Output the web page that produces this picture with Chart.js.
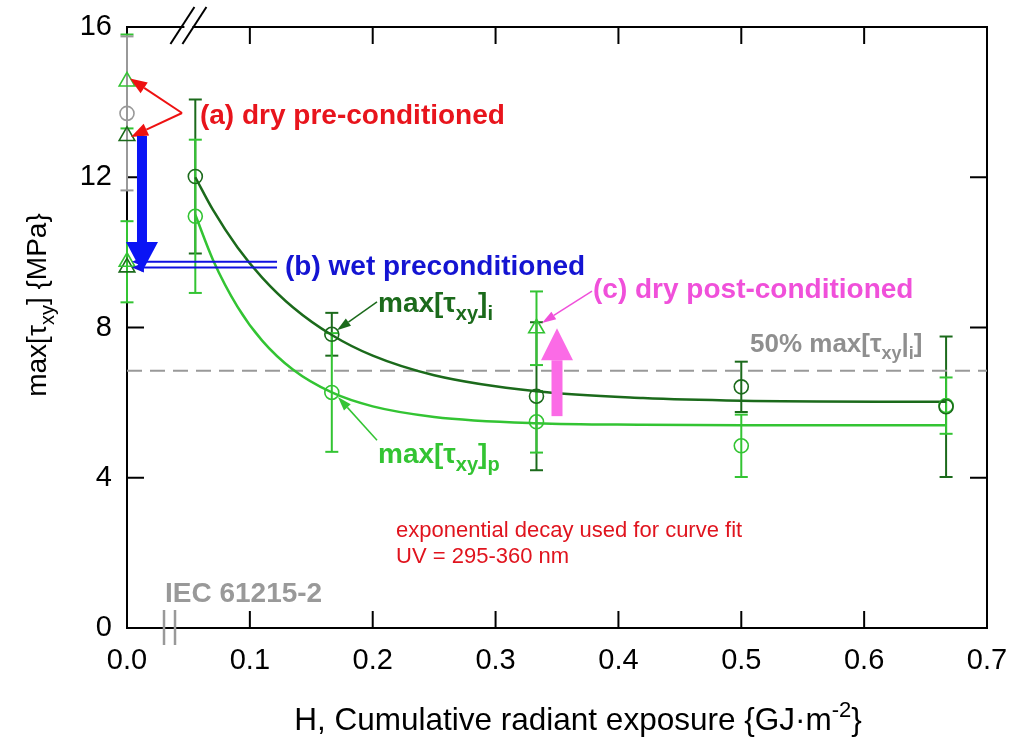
<!DOCTYPE html>
<html>
<head>
<meta charset="utf-8">
<title>max shear stress vs cumulative radiant exposure</title>
<script src="https://cdn.jsdelivr.net/npm/chart.js@4.4.1/dist/chart.umd.min.js"></script>
<style>
  html, body { margin: 0; padding: 0; background: #fff; }
  #wrap { width: 1011px; height: 743px; }
</style>
</head>
<body>
<div id="wrap"><canvas id="chartTau" width="1011" height="743"></canvas></div>
<script>
// ---- data ----------------------------------------------------------
// UV-aged specimens, H in GJ/m2, stresses in MPa
var exposureH = [0.0556, 0.1667, 0.3333, 0.5, 0.6667];
var tauI      = [12.02, 7.82, 6.17, 6.42, 5.89];
var tauIErr   = [2.05, 0.57, 1.97, 0.67, 1.87];
var tauP      = [10.96, 6.27, 5.49, 4.85, 5.92];
var tauPErr   = [2.04, 1.58, 0.82, 0.83, 0.75];

// IEC 61215-2 reference (unaged)
var iecH   = [0];
var iecTau = [13.7];
var iecErr = [2.05];

// conditioned specimens: dry pre, wet pre, dry post
var condHP    = [0, 0, 0.3333];
var condTauP  = [14.55, 9.75, 7.98];
var condErrP  = [1.25, 1.08, 0.98];
var condHI    = [0, 0];
var condTauI  = [13.1, 9.6];

// exponential decay fit curves
var fitH    = [0.0556, 0.07, 0.09, 0.11, 0.135, 0.1667, 0.2, 0.25, 0.3333, 0.42, 0.5, 0.6667];
var fitTauI = [12.0, 11.13, 10.13, 9.33, 8.54, 7.80, 7.25, 6.73, 6.30, 6.12, 6.05, 6.02];
var fitTauP = [11.0, 9.80, 8.55, 7.65, 6.88, 6.27, 5.90, 5.62, 5.45, 5.41, 5.40, 5.40];

var xTicks = [0, 0.1, 0.2, 0.3, 0.4, 0.5, 0.6, 0.7];
var yTicks = [0, 4, 8, 12, 16];

var halfMaxI = 0.5 * iecTau[0];

// ---- styles --------------------------------------------------------
var FONT = '"Liberation Sans", Arial, Helvetica, sans-serif';
var DARK_GREEN = '#1b6a1b';
var LIGHT_GREEN = '#33c433';
var GRAY = '#999999';

function pts(xs, ys) {
  return xs.map(function (x, i) { return { x: x, y: ys[i] }; });
}

// error bars, drawn under the markers
var errorBars = [];
exposureH.forEach(function (h, i) { errorBars.push({ x: h, y: tauI[i], e: tauIErr[i], c: DARK_GREEN }); });
exposureH.forEach(function (h, i) { errorBars.push({ x: h, y: tauP[i], e: tauPErr[i], c: LIGHT_GREEN }); });
condHP.forEach(function (h, i) { errorBars.push({ x: h, y: condTauP[i], e: condErrP[i], c: LIGHT_GREEN }); });
iecH.forEach(function (h, i) { errorBars.push({ x: h, y: iecTau[i], e: iecErr[i], c: GRAY }); });

// text with sub/superscript parts: [text, 'sub' | 'sup' | null]
function richText(ctx, x, y, parts, size, weight, color, align) {
  function fontFor(k) {
    var s = k ? Math.round(size * 0.7) : size;
    return weight + ' ' + s + 'px ' + FONT;
  }
  var total = 0;
  parts.forEach(function (p) { ctx.font = fontFor(p[1]); total += ctx.measureText(p[0]).width; });
  var cx = align === 'center' ? x - total / 2 : x;
  ctx.fillStyle = color;
  ctx.textAlign = 'left';
  ctx.textBaseline = 'alphabetic';
  parts.forEach(function (p) {
    ctx.font = fontFor(p[1]);
    var dy = p[1] === 'sub' ? size * 0.28 : (p[1] === 'sup' ? -size * 0.42 : 0);
    ctx.fillText(p[0], cx, y + dy);
    cx += ctx.measureText(p[0]).width;
  });
}

function arrow(ctx, x1, y1, x2, y2, color, lw, headLen, headW) {
  var ang = Math.atan2(y2 - y1, x2 - x1);
  var bx = x2 - Math.cos(ang) * headLen, by = y2 - Math.sin(ang) * headLen;
  ctx.strokeStyle = color;
  ctx.fillStyle = color;
  ctx.lineWidth = lw;
  ctx.lineCap = 'butt';
  ctx.beginPath();
  ctx.moveTo(x1, y1);
  ctx.lineTo(bx, by);
  ctx.stroke();
  ctx.beginPath();
  ctx.moveTo(x2, y2);
  ctx.lineTo(bx + Math.sin(ang) * headW / 2, by - Math.cos(ang) * headW / 2);
  ctx.lineTo(bx - Math.sin(ang) * headW / 2, by + Math.cos(ang) * headW / 2);
  ctx.closePath();
  ctx.fill();
}

function line(ctx, x1, y1, x2, y2) {
  ctx.beginPath();
  ctx.moveTo(x1, y1);
  ctx.lineTo(x2, y2);
  ctx.stroke();
}

var framePlugin = {
  id: 'frameAndNotes',
  beforeDatasetsDraw: function (chart) {
    var ctx = chart.ctx, a = chart.chartArea;
    var sx = chart.scales.x, sy = chart.scales.y;
    ctx.save();

    // box and inward ticks
    ctx.strokeStyle = '#000';
    ctx.lineWidth = 2;
    ctx.strokeRect(a.left, a.top, a.right - a.left, a.bottom - a.top);
    sx.ticks.forEach(function (t) {
      var p = sx.getPixelForValue(t.value);
      if (t.value <= 0 || t.value >= 0.7) return;
      line(ctx, p, a.bottom, p, a.bottom - 17);
      line(ctx, p, a.top, p, a.top + 17);
    });
    sy.ticks.forEach(function (t) {
      var p = sy.getPixelForValue(t.value);
      if (t.value <= 0 || t.value >= 16) return;
      line(ctx, a.left, p, a.left + 17, p);
      line(ctx, a.right, p, a.right - 17, p);
    });

    // axis break on top edge
    var bx = sx.getPixelForValue(0.05);
    ctx.fillStyle = '#fff';
    ctx.fillRect(bx - 4, a.top - 2, 8, 4);
    ctx.strokeStyle = '#000';
    ctx.lineWidth = 2;
    line(ctx, bx - 18, a.top + 17, bx + 6, a.top - 20);
    line(ctx, bx - 6, a.top + 17, bx + 18, a.top - 20);

    // axis break on bottom edge
    var bb = sx.getPixelForValue(0.0346);
    ctx.strokeStyle = GRAY;
    ctx.lineWidth = 2.5;
    line(ctx, bb - 5.5, a.bottom - 18, bb - 5.5, a.bottom + 17);
    line(ctx, bb + 5.5, a.bottom - 18, bb + 5.5, a.bottom + 17);

    richText(ctx, sx.getPixelForValue(0.0309), sy.getPixelForValue(0.69),
      [['IEC 61215-2', null]], 28, 'bold', GRAY, 'left');

    // error bars
    errorBars.forEach(function (b) {
      var x = sx.getPixelForValue(b.x);
      var y1 = sy.getPixelForValue(b.y + b.e), y2 = sy.getPixelForValue(b.y - b.e);
      ctx.strokeStyle = b.c;
      ctx.lineWidth = 2;
      line(ctx, x, y1, x, y2);
      line(ctx, x - 6.5, y1, x + 6.5, y1);
      line(ctx, x - 6.5, y2, x + 6.5, y2);
    });
    ctx.restore();
  },
  afterDatasetsDraw: function (chart) {
    var ctx = chart.ctx, a = chart.chartArea;
    var sx = chart.scales.x, sy = chart.scales.y;
    function X(v) { return sx.getPixelForValue(v); }
    function Y(v) { return sy.getPixelForValue(v); }
    ctx.save();

    // (a) dry pre-conditioned
    richText(ctx, X(0.0594), Y(13.42), [['(a) dry pre-conditioned', null]], 28, 'bold', '#e8141c', 'left');
    arrow(ctx, X(0.0448), Y(13.71), X(0) + 3, Y(condTauP[0]) - 3, '#ee1111', 2, 17, 13);
    arrow(ctx, X(0.0448), Y(13.71), X(0) + 4, Y(condTauI[0]) + 1, '#ee1111', 2, 17, 13);

    // (b) wet preconditioned
    arrow(ctx, X(0.1221), Y(condTauP[1]), X(0.004), Y(condTauP[1]), '#1010e0', 2, 12, 10);
    arrow(ctx, X(0.1221), Y(condTauI[1]), X(0.004), Y(condTauI[1]), '#1010e0', 2, 12, 10);
    arrow(ctx, X(0.0122), Y(condTauI[0]), X(0.0122), Y(9.48), '#0a14f5', 10, 30, 32);
    richText(ctx, X(0.1286), Y(9.40), [['(b) wet preconditioned', null]], 28, 'bold', '#1414d2', 'left');

    // (c) dry post-conditioned
    richText(ctx, X(0.3793), Y(8.79), [['(c) dry post-conditioned', null]], 28, 'bold', '#f050da', 'left');
    arrow(ctx, X(0.3785), Y(8.97), X(0.3378), Y(8.12), '#f050da', 1.5, 14, 9);
    arrow(ctx, X(0.35), Y(5.64), X(0.35), Y(condTauP[2]), '#fb6be6', 11, 32, 32);

    // curve labels
    richText(ctx, X(0.2043), Y(8.41), [['max[τ', null], ['xy', 'sub'], [']', null], ['i', 'sub']], 28, 'bold', DARK_GREEN, 'left');
    arrow(ctx, X(0.2035), Y(8.68), X(0.1709), Y(7.93), DARK_GREEN, 1.5, 14, 9);
    richText(ctx, X(0.2043), Y(4.38), [['max[τ', null], ['xy', 'sub'], [']', null], ['p', 'sub']], 28, 'bold', LIGHT_GREEN, 'left');
    arrow(ctx, X(0.2035), Y(5.0), X(0.1717), Y(6.15), LIGHT_GREEN, 1.5, 14, 9);

    // 50 % line label
    richText(ctx, X(0.5071), Y(7.35), [['50% max[τ', null], ['xy', 'sub'], ['|', null], ['i', 'sub'], [']', null]], 26, 'bold', '#8f8f8f', 'left');

    // fit note
    richText(ctx, X(0.219), Y(2.42), [['exponential decay used for curve fit', null]], 22, 'normal', '#e0141e', 'left');
    richText(ctx, X(0.219), Y(1.73), [['UV = 295-360 nm', null]], 22, 'normal', '#e0141e', 'left');

    // axis titles
    richText(ctx, (a.left + a.right) / 2 + 21, 730,
      [['H, Cumulative radiant exposure {GJ·m', null], ['-2', 'sup'], ['}', null]], 31.5, 'normal', '#000', 'center');
    ctx.translate(46, 305);
    ctx.rotate(-Math.PI / 2);
    richText(ctx, 0, 0, [['max[τ', null], ['xy', 'sub'], ['] {MPa}', null]], 28, 'normal', '#000', 'center');
    ctx.restore();
  }
};

var ctx = document.getElementById('chartTau');

new Chart(ctx, {
  type: 'scatter',
  data: {
    datasets: [
      {
        label: 'fit i',
        data: pts(fitH, fitTauI),
        showLine: true,
        borderColor: DARK_GREEN,
        borderWidth: 2.5,
        pointRadius: 0,
        cubicInterpolationMode: 'monotone',
        order: 5
      },
      {
        label: 'fit p',
        data: pts(fitH, fitTauP),
        showLine: true,
        borderColor: LIGHT_GREEN,
        borderWidth: 2.5,
        pointRadius: 0,
        cubicInterpolationMode: 'monotone',
        order: 5
      },
      {
        label: '50% max i',
        data: [{ x: 0, y: halfMaxI }, { x: 0.7, y: halfMaxI }],
        showLine: true,
        borderColor: GRAY,
        borderWidth: 2,
        borderDash: [15, 8],
        pointRadius: 0,
        order: 6
      },
      {
        label: 'max i',
        data: pts(exposureH, tauI),
        pointStyle: 'circle',
        pointRadius: 7,
        pointBorderWidth: 1.6,
        borderColor: DARK_GREEN,
        backgroundColor: 'rgba(0,0,0,0)',
        clip: false,
        order: 2
      },
      {
        label: 'max p',
        data: pts(exposureH, tauP),
        pointStyle: 'circle',
        pointRadius: 7,
        pointBorderWidth: 1.6,
        borderColor: LIGHT_GREEN,
        backgroundColor: 'rgba(0,0,0,0)',
        clip: false,
        order: 3
      },
      {
        label: 'IEC',
        data: pts(iecH, iecTau),
        pointStyle: 'circle',
        pointRadius: 7,
        pointBorderWidth: 1.6,
        borderColor: GRAY,
        backgroundColor: 'rgba(0,0,0,0)',
        clip: false,
        order: 1
      },
      {
        label: 'conditioned p',
        data: pts(condHP, condTauP),
        pointStyle: 'triangle',
        pointRadius: 9,
        pointBorderWidth: 1.6,
        borderColor: LIGHT_GREEN,
        backgroundColor: 'rgba(0,0,0,0)',
        clip: false,
        order: 1
      },
      {
        label: 'conditioned i',
        data: pts(condHI, condTauI),
        pointStyle: 'triangle',
        pointRadius: 9,
        pointBorderWidth: 1.6,
        borderColor: DARK_GREEN,
        backgroundColor: 'rgba(0,0,0,0)',
        clip: false,
        order: 1
      }
    ]
  },
  options: {
    responsive: false,
    animation: false,
    layout: { padding: { left: 0, right: 24, top: 27, bottom: 0 } },
    plugins: {
      legend: { display: false },
      tooltip: { enabled: false }
    },
    scales: {
      x: {
        type: 'linear',
        min: 0,
        max: 0.7,
        afterBuildTicks: function (s) { s.ticks = xTicks.map(function (v) { return { value: v }; }); },
        afterFit: function (s) { s.height = 115; s.paddingLeft = 0; s.paddingRight = 0; },
        grid: { display: false, drawTicks: false },
        border: { display: false },
        ticks: {
          color: '#000',
          padding: 16,
          font: { family: FONT, size: 29 },
          callback: function (v) { return v.toFixed(1); }
        }
      },
      y: {
        type: 'linear',
        min: 0,
        max: 16,
        afterBuildTicks: function (s) { s.ticks = yTicks.map(function (v) { return { value: v }; }); },
        afterFit: function (s) { s.width = 127; s.paddingTop = 0; s.paddingBottom = 0; },
        grid: { display: false, drawTicks: false },
        border: { display: false },
        ticks: {
          color: '#000',
          padding: 15,
          font: { family: FONT, size: 29 }
        }
      }
    }
  },
  plugins: [framePlugin]
});
</script>
</body>
</html>
